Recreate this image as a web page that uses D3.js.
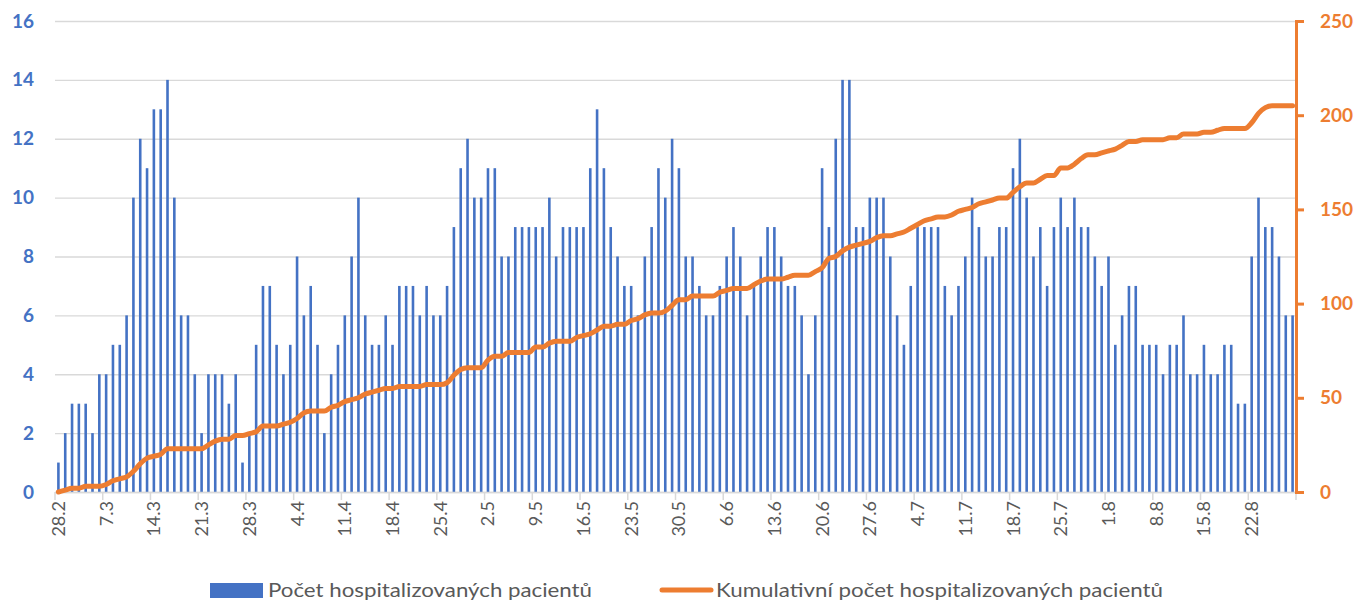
<!DOCTYPE html>
<html>
<head>
<meta charset="utf-8">
<script src="https://cdn.jsdelivr.net/npm/d3@7"></script>
<style>
  html, body { margin: 0; padding: 0; background: #fff; }
  svg { display: block; }
</style>
</head>
<body>
<svg id="chart" width="1358" height="602"></svg>
<script>
// ---- data ----
// daily categories 28.2 – 28.8 (2021)
const categories = d3.timeDay.range(new Date(2021, 1, 28), new Date(2021, 7, 29))
  .map(d => d.getDate() + "." + (d.getMonth() + 1));

const tickLabels = ["28.2","7.3","14.3","21.3","28.3","4.4","11.4","18.4","25.4","2.5","9.5","16.5","23.5","30.5","6.6","13.6","20.6","27.6","4.7","11.7","18.7","25.7","1.8","8.8","15.8","22.8"];

const hospitalized = [
  1,2,3,3,3,2,4,4,5,5,6,10,12,11,13,13,14,10,6,6,4,
  2,4,4,4,3,4,1,2,5,7,7,5,4,5,8,6,7,5,2,4,
  5,6,8,10,6,5,5,6,5,7,7,7,6,7,6,6,7,9,11,12,10,
  10,11,11,8,8,9,9,9,9,9,10,8,9,9,9,9,11,13,11,9,
  8,7,7,6,8,9,11,10,12,11,8,8,7,6,6,7,8,9,8,6,7,
  8,9,9,8,7,7,6,4,6,11,9,12,14,14,9,9,10,10,10,8,
  6,5,7,9,9,9,9,7,6,7,8,10,9,8,8,9,9,11,12,10,8,
  9,7,9,10,9,10,9,9,8,7,8,5,6,7,7,5,5,5,4,5,
  5,6,4,4,5,4,4,5,5,3,3,8,10,9,9,8,6,6
];

const cumulative = [
  0,1,2,2,3,3,3,4,6,7,8,11,15,18,19,20,23,23,23,23,23,
  23,25,27,28,28,30,30,31,32,35,35,35,36,37,39,42,43,43,43,45,
  46,48,49,50,52,53,54,55,55,56,56,56,56,57,57,57,58,62,65,66,66,
  66,70,72,72,74,74,74,74,77,77,79,80,80,80,82,83,84,86,88,88,
  89,89,91,92,94,95,95,96,99,102,102,104,104,104,104,106,107,108,108,108,110,
  112,113,113,113,114,115,115,115,117,119,124,125,128,130,131,132,133,135,136,136,
  137,138,140,142,144,145,146,146,147,149,150,151,153,154,155,156,156,159,162,164,164,
  166,168,168,172,172,174,177,179,179,180,181,182,184,186,186,187,187,187,187,188,
  188,190,190,190,191,191,192,193,193,193,193,196,201,204,205,205,205,205
];

const leftTicks = [0,2,4,6,8,10,12,14,16];
const rightTicks = [0,50,100,150,200,250];
const seriesNames = ["Počet hospitalizovaných pacientů", "Kumulativní počet hospitalizovaných pacientů"];

// ---- layout ----
const plot = { left: 55, right: 1296, top: 21, bottom: 492 };
const blue = "#4472C4", orange = "#ED7D31", grid = "#D9D9D9", textGray = "#595959";
const pad = 0.62;
const font = "Lato, 'Open Sans', sans-serif";

const svg = d3.select("#chart");

const x = d3.scaleBand().domain(categories)
  .range([plot.left, plot.right]).paddingInner(pad).paddingOuter(pad / 2);
const yL = d3.scaleLinear().domain([0, 16]).range([plot.bottom, plot.top]);
const yR = d3.scaleLinear().domain([0, 250]).range([plot.bottom, plot.top]);

// gridlines
const gGrid = svg.append("g").attr("transform", `translate(${plot.left},0)`)
  .call(d3.axisLeft(yL).tickValues(leftTicks).tickSize(-(plot.right - plot.left)).tickFormat(""));
gGrid.select(".domain").remove();
gGrid.selectAll("line").attr("stroke", grid).attr("stroke-width", 1.3);

// left axis labels
const gL = svg.append("g").attr("transform", `translate(${plot.left},0)`)
  .call(d3.axisLeft(yL).tickValues(leftTicks).tickSize(0).tickPadding(21));
gL.select(".domain").remove();
gL.selectAll("text").attr("fill", blue).attr("font-family", font)
  .attr("font-weight", "bold").attr("font-size", 19);

// bars
svg.append("g").selectAll("rect").data(hospitalized).join("rect")
  .attr("x", (d, i) => x(categories[i]))
  .attr("width", x.bandwidth())
  .attr("y", d => yL(d))
  .attr("height", d => plot.bottom - yL(d))
  .attr("fill", blue);

// x axis baseline + labels
const gX = svg.append("g").attr("transform", `translate(0,${plot.bottom})`)
  .call(d3.axisBottom(x).tickValues(tickLabels).tickSize(0).tickPadding(0));
gX.select(".domain").attr("stroke", grid).attr("stroke-width", 1.3);
gX.selectAll("text")
  .attr("transform", "rotate(-90)")
  .attr("text-anchor", "end")
  .attr("x", -9).attr("y", 0).attr("dy", "0.36em")
  .attr("fill", textGray)
  .attr("font-family", font)
  .attr("font-size", 18);

// x tick marks at category boundaries
const step = x.step();
const boundaryIdx = categories.map((c, i) => i).filter(i => i % 7 === 0).concat([categories.length]);
svg.append("g").selectAll("line").data(boundaryIdx).join("line")
  .attr("x1", i => i < categories.length ? x(categories[i]) - step * pad / 2 : plot.right)
  .attr("x2", i => i < categories.length ? x(categories[i]) - step * pad / 2 : plot.right)
  .attr("y1", plot.bottom).attr("y2", plot.bottom + 8)
  .attr("stroke", grid).attr("stroke-width", 1.5);

// cumulative line
const line = d3.line()
  .x((d, i) => x(categories[i]) + x.bandwidth() / 2)
  .y(d => yR(d))
  .curve(d3.curveMonotoneX);
svg.append("path").datum(cumulative)
  .attr("d", line)
  .attr("fill", "none")
  .attr("stroke", orange)
  .attr("stroke-width", 5)
  .attr("stroke-linejoin", "round")
  .attr("stroke-linecap", "round");

// right axis
const gR = svg.append("g").attr("transform", `translate(${plot.right},0)`)
  .call(d3.axisRight(yR).tickValues(rightTicks).tickSize(8).tickPadding(16));
gR.select(".domain").attr("stroke", orange).attr("stroke-width", 3);
gR.selectAll("line").attr("stroke", orange).attr("stroke-width", 3);
gR.selectAll("text").attr("fill", orange).attr("font-family", font)
  .attr("font-weight", "bold").attr("font-size", 19);

// legend
const lg = svg.append("g").attr("font-family", font).attr("font-size", 20).attr("fill", textGray);
lg.append("rect").attr("x", 210).attr("y", 583).attr("width", 53).attr("height", 15).attr("fill", blue);
lg.append("text").attr("x", 268).attr("y", 597)
  .attr("textLength", 324).attr("lengthAdjust", "spacingAndGlyphs").text(seriesNames[0]);
lg.append("line").attr("x1", 662).attr("x2", 711).attr("y1", 590).attr("y2", 590)
  .attr("stroke", orange).attr("stroke-width", 5).attr("stroke-linecap", "round");
lg.append("text").attr("x", 716).attr("y", 597)
  .attr("textLength", 447).attr("lengthAdjust", "spacingAndGlyphs").text(seriesNames[1]);
</script>
</body>
</html>
